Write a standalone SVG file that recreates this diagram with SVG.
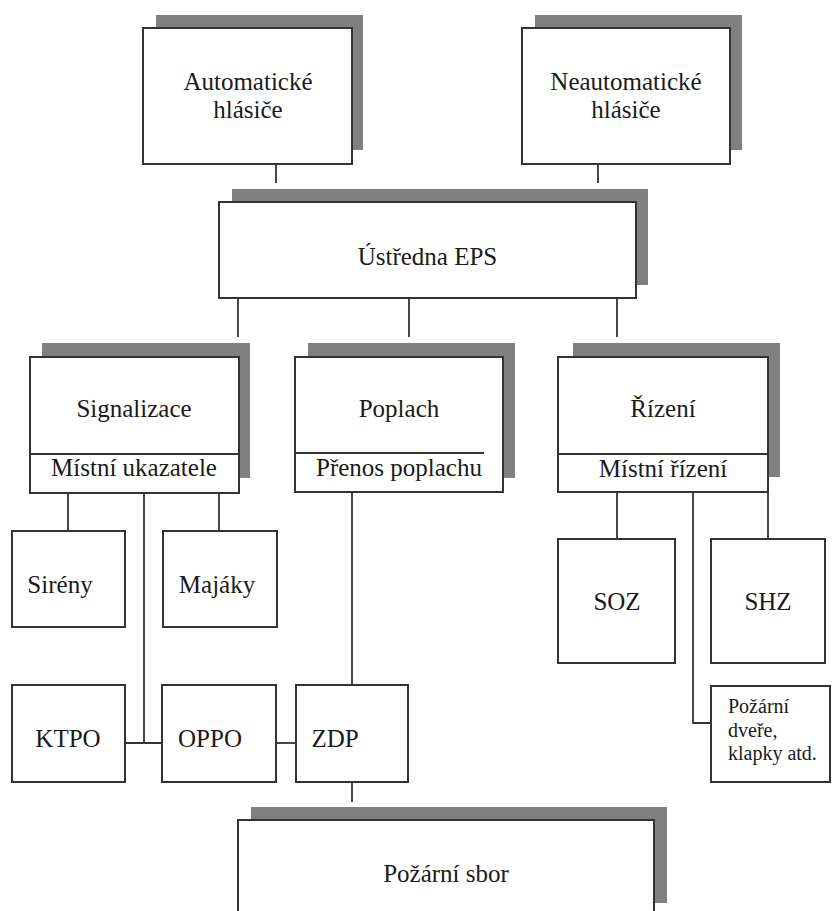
<svg xmlns="http://www.w3.org/2000/svg" width="833" height="911" viewBox="0 0 833 911" font-family="Liberation Serif, DejaVu Serif, serif">
<style>
.sh{fill:#808080;stroke:none}
.bx{fill:#ffffff;stroke:#333333;stroke-width:2}
.dv{stroke:#333333;stroke-width:1.8;fill:none}
.t{font-size:25px;fill:#1a1a1a;text-anchor:middle}
.ts{font-size:20px;fill:#1a1a1a}
#connectors line,#connectors polyline{stroke:#333333;stroke-width:1.8;fill:none}
</style>
<rect width="833" height="911" fill="#ffffff"/>
<g id="connectors">
<line x1="276" y1="164" x2="276" y2="183"/>
<line x1="598" y1="164" x2="598" y2="183"/>
<line x1="238" y1="298" x2="238" y2="337"/>
<line x1="409" y1="298" x2="409" y2="337"/>
<line x1="617" y1="298" x2="617" y2="337"/>
<line x1="68" y1="493" x2="68" y2="531"/>
<line x1="219" y1="493" x2="219" y2="531"/>
<line x1="144" y1="493" x2="144" y2="743"/>
<line x1="125" y1="743" x2="162" y2="743"/>
<line x1="276" y1="743" x2="296" y2="743"/>
<line x1="352" y1="492" x2="352" y2="685"/>
<line x1="352" y1="782" x2="352" y2="802"/>
<line x1="617" y1="492" x2="617" y2="539"/>
<line x1="768" y1="492" x2="768" y2="539"/>
<polyline points="693,492 693,723 711,723"/>
</g>
<g id="automaticke">
<rect class="sh" x="156" y="15" width="207" height="135"/>
<rect class="bx" x="143" y="28" width="209" height="136"/>
<text class="t" x="248" y="90" font-family="Liberation Serif">Automatické</text>
<text class="t" x="248" y="118" font-family="Liberation Serif">hlásiče</text>
</g>
<g id="neautomaticke">
<rect class="sh" x="535" y="15" width="207" height="135"/>
<rect class="bx" x="522" y="28" width="208" height="136"/>
<text class="t" x="626" y="90">Neautomatické</text>
<text class="t" x="626" y="118">hlásiče</text>
</g>
<g id="ustredna">
<rect class="sh" x="232" y="189" width="416" height="96"/>
<rect class="bx" x="219" y="202" width="417" height="96"/>
<text class="t" x="427.5" y="265">Ústředna EPS</text>
</g>
<g id="signalizace">
<rect class="sh" x="42" y="343" width="208" height="135"/>
<rect class="bx" x="30" y="357" width="209" height="136"/>
<line class="dv" x1="30" y1="454" x2="239" y2="454"/>
<text class="t" x="134" y="417">Signalizace</text>
<text class="t" x="134" y="476">Místní ukazatele</text>
</g>
<g id="poplach">
<rect class="sh" x="308" y="343" width="207" height="135"/>
<rect class="bx" x="295" y="357" width="208" height="135"/>
<line class="dv" x1="295" y1="453" x2="484" y2="453"/>
<text class="t" x="399" y="417">Poplach</text>
<text class="t" x="399" y="476">Přenos poplachu</text>
</g>
<g id="rizeni">
<rect class="sh" x="573" y="343" width="207" height="134"/>
<rect class="bx" x="558" y="357" width="210" height="135"/>
<line class="dv" x1="558" y1="454" x2="768" y2="454"/>
<text class="t" x="663" y="417">Řízení</text>
<text class="t" x="663" y="477">Místní řízení</text>
</g>
<g id="sireny">
<rect class="bx" x="12" y="531" width="113" height="96"/>
<text class="t" x="60" y="593">Sirény</text>
</g>
<g id="majaky">
<rect class="bx" x="163" y="531" width="114" height="96"/>
<text class="t" x="217" y="593">Majáky</text>
</g>
<g id="soz">
<rect class="bx" x="558" y="539" width="117" height="124"/>
<text class="t" x="617" y="610">SOZ</text>
</g>
<g id="shz">
<rect class="bx" x="711" y="539" width="114" height="124"/>
<text class="t" x="768" y="610">SHZ</text>
</g>
<g id="ktpo">
<rect class="bx" x="12" y="685" width="113" height="97"/>
<text class="t" x="68" y="747">KTPO</text>
</g>
<g id="oppo">
<rect class="bx" x="162" y="685" width="114" height="97"/>
<text class="t" x="210" y="747">OPPO</text>
</g>
<g id="zdp">
<rect class="bx" x="296" y="685" width="112" height="97"/>
<text class="t" x="335" y="747">ZDP</text>
</g>
<g id="pozarni-dvere">
<rect class="bx" x="711" y="686" width="119" height="96"/>
<text class="ts" x="728" y="713">Požární</text>
<text class="ts" x="728" y="737">dveře,</text>
<text class="ts" x="728" y="760">klapky atd.</text>
</g>
<g id="pozarni-sbor">
<rect class="sh" x="251" y="807" width="416" height="96"/>
<rect class="bx" x="238" y="820" width="416" height="100"/>
<text class="t" x="446" y="882">Požární sbor</text>
</g>
</svg>
